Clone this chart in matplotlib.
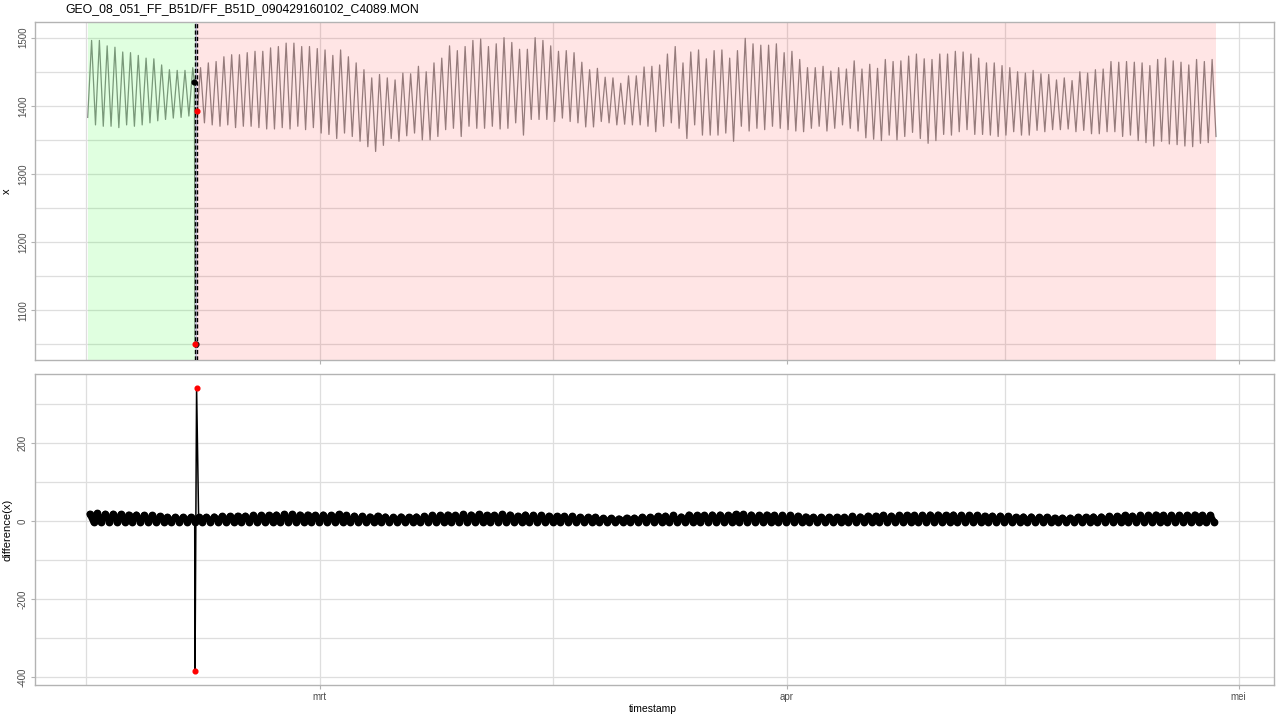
import numpy as np
import pandas as pd
import matplotlib
matplotlib.use("Agg")
import matplotlib.pyplot as plt
import matplotlib.dates as mdates

plt.rcParams['font.family'] = ['Liberation Sans', 'DejaVu Sans']
plt.rcParams['axes.unicode_minus'] = False

# ---------------- data ----------------
title = "GEO_08_051_FF_B51D/FF_B51D_090429160102_C4089.MON"

series_start = "2009-02-13 14:00"
step_minutes = 372          # half tidal cycle (trough -> peak)

# tidal peaks (one per cycle)
peaks = [1496, 1496, 1488, 1486, 1479, 1478, 1474, 1470, 1469, 1460, 1453, 1452, 1452, 1456,
         1456, 1463, 1465, 1472, 1475, 1475, 1478, 1480, 1480, 1485, 1487, 1492, 1492, 1487, 1487,
         1484, 1482, 1474, 1482, 1472, 1463, 1453, 1441, 1446, 1441, 1438, 1448, 1447, 1458,
         1450, 1463, 1470, 1488, 1481, 1487, 1496, 1498, 1487, 1491, 1500, 1493, 1483, 1483, 1500,
         1496, 1488, 1480, 1481, 1478, 1464, 1453, 1455, 1442, 1441, 1433, 1444, 1444, 1457, 1458,
         1460, 1476, 1487, 1463, 1479, 1482, 1469, 1481, 1482, 1470, 1481, 1499, 1491, 1489, 1489,
         1491, 1478, 1480, 1468, 1456, 1456, 1458, 1451, 1456, 1454, 1466, 1454, 1461, 1455, 1468,
         1465, 1466, 1473, 1476, 1469, 1468, 1476, 1476, 1480, 1479, 1476, 1470, 1463, 1463, 1459,
         1456, 1450,
         1448, 1452, 1447, 1446, 1438, 1441, 1437, 1450, 1448, 1453, 1454, 1465, 1464, 1465, 1464,
         1463, 1459, 1468, 1470, 1466, 1464, 1460, 1468, 1465, 1468]

# tidal troughs (the one preceding each peak)
troughs = [1383, 1372, 1370, 1370, 1368, 1372, 1370, 1372, 1375, 1378, 1380, 1382, 1383, 1385,
           1378, 1375, 1372, 1370, 1372, 1368, 1370, 1370, 1368, 1366, 1366, 1368, 1366, 1370, 1365,
           1368, 1360, 1358, 1352, 1360, 1355, 1348, 1340, 1333, 1342, 1352, 1348, 1356, 1360,
           1350, 1350, 1355, 1365, 1367, 1355, 1370, 1367, 1367, 1370, 1366, 1367, 1375, 1357, 1380,
           1380, 1380, 1377, 1382, 1377, 1375, 1369, 1369, 1377, 1375, 1372, 1373, 1372, 1372, 1370,
           1362, 1370, 1375, 1367, 1352, 1372, 1357, 1357, 1357, 1360, 1348, 1370, 1363, 1367, 1365,
           1370, 1367, 1365, 1363, 1362, 1367, 1370, 1363, 1367, 1372, 1367, 1363, 1353, 1351, 1349,
           1357, 1350, 1355, 1361, 1352, 1345, 1349, 1358, 1357, 1362, 1365, 1358, 1358, 1357, 1355,
           1357, 1362,
           1357, 1357, 1364, 1362, 1365, 1365, 1366, 1362, 1364, 1359, 1359, 1362, 1362, 1355, 1357,
           1349, 1346, 1341, 1348, 1344, 1343, 1341, 1340, 1345, 1346]
end_value = 1355

# outlier around the change point
spike_times = ["2009-02-20 16:00", "2009-02-20 17:00", "2009-02-20 19:30"]
spike_values = [1435, 1050, 1392]
black_pts_times = ["2009-02-20 16:00", "2009-02-20 18:00"]
black_pts_values = [1435, 1050]
red_pts_times = ["2009-02-20 17:00", "2009-02-20 19:30"]
red_pts_values = [1050, 1392]

change_start = "2009-02-20 17:00"
change_end = "2009-02-20 19:30"

# difference(x): rising-limb maximum and falling-limb minimum per cycle
diff_hi = [18, 20, 18, 18, 17, 16, 16, 15, 14, 12, 10, 10, 10, 10,
           9, 10, 11, 12, 12, 13, 13, 14, 14, 15, 16, 17, 17, 16, 16, 15, 16, 15, 17, 14,
           13, 12, 11, 13, 11, 9, 11, 10, 11,
           12, 14, 14, 16, 14, 17, 16, 17, 15, 15, 17, 16, 13, 16, 15, 14, 13, 12, 12, 12,
           10, 9, 10, 7, 7, 6, 8, 8, 10, 10,
           12, 13, 14, 11, 16, 14, 14, 16, 16, 14, 17, 17, 16, 15, 16, 15, 14, 14, 13, 11,
           10, 10, 10, 10, 9, 12, 11, 13, 13, 15, 13, 14, 15, 14, 15, 16, 16, 15, 16, 15,
           14, 14, 13, 13, 13, 12, 10,
           11, 11, 9, 10, 8, 8, 8, 10, 10, 11, 11, 12, 12, 14, 13, 14, 14, 16, 15, 15,
           15, 15, 16, 15, 15]
diff_lo = [-3, -3, -3, -3, -3, -3, -3, -3, -3, -2, -2, -2, -2, -2,
           -2, -2, -2, -3, -3, -3, -3, -3, -3, -3, -3, -3, -3, -3, -3, -3, -3, -3, -3, -3,
           -3, -3, -3, -3, -3, -2, -3, -2, -3,
           -3, -3, -3, -3, -3, -3, -3, -3, -3, -3, -3, -3, -3, -3, -3, -3, -3, -3, -3, -3,
           -2, -2, -2, -2, -2, -2, -2, -2, -2, -2,
           -3, -3, -3, -3, -3, -3, -3, -3, -3, -3, -3, -3, -3, -3, -3, -3, -3, -3, -3, -2,
           -2, -2, -2, -2, -2, -3, -2, -3, -3, -3, -3, -3, -3, -3, -3, -3, -3, -3, -3, -3,
           -3, -3, -3, -3, -3, -3, -2,
           -2, -2, -2, -2, -2, -2, -2, -2, -2, -2, -2, -3, -3, -3, -3, -3, -3, -3, -3, -3,
           -3, -3, -3, -3, -3]
spike_diff_times = ["2009-02-20 17:00", "2009-02-20 19:30"]
spike_diffs = [-385, 342]

month_ticks = ["2009-03-01", "2009-04-01", "2009-05-01"]
month_labels = ["mrt", "apr", "mei"]
minor_month_ticks = ["2009-02-13 12:00", "2009-03-16 12:00", "2009-04-15 12:00"]
x_limits = ["2009-02-10 02:00", "2009-05-03 08:24"]

top_major = [1100, 1200, 1300, 1400, 1500]
top_minor = [1050, 1150, 1250, 1350, 1450]
bot_major = [-400, -200, 0, 200]
bot_minor = [-300, -100, 100, 300]

# ---------------- build series ----------------
start = pd.Timestamp(series_start)
step = pd.Timedelta(minutes=step_minutes)

vals = []
for tr, pk in zip(troughs, peaks):
    vals += [tr, pk]
vals.append(end_value)
times = [start + i * step for i in range(len(vals))]
ser = pd.Series(vals, index=pd.DatetimeIndex(times))
ser = pd.concat([ser, pd.Series(spike_values, index=pd.to_datetime(spike_times))]).sort_index()

dvals = []
for hi, lo in zip(diff_hi, diff_lo):
    dvals += [hi, lo]
dtimes = [start + (i + 0.5) * step for i in range(len(dvals))]
dser = pd.Series(dvals, index=pd.DatetimeIndex(dtimes))
sp = pd.Series(spike_diffs, index=pd.to_datetime(spike_diff_times))
dser_all = pd.concat([dser, sp]).sort_index()
t_sp0, t_sp1 = sp.index.min(), sp.index.max()
before = dser_all[dser_all.index < t_sp0]
after = dser_all[dser_all.index > t_sp1]
spike_seg = pd.concat([before.iloc[-1:], sp, after.iloc[:1]])

# ---------------- figure ----------------
fig = plt.figure(figsize=(12.8, 7.2), dpi=100)
ax1 = fig.add_axes([35/1280, 1-360/720, 1239/1280, 338/720])
ax2 = fig.add_axes([35/1280, 1-685/720, 1239/1280, 311/720])

grid_col = '#dedede'
border_col = '#b3b3b3'
text_col = '#4d4d4d'

major_dates = pd.to_datetime(month_ticks)
minor_dates = pd.to_datetime(minor_month_ticks)
xl = pd.to_datetime(x_limits)

for ax in (ax1, ax2):
    ax.set_xlim(xl[0], xl[1])
    for d in list(major_dates) + list(minor_dates):
        ax.axvline(d, color=grid_col, lw=0.9, zorder=0)
    for s in ax.spines.values():
        s.set_color(border_col)
        s.set_linewidth(1.0)
    ax.set_xticks(major_dates)
    ax.tick_params(axis='both', colors=border_col, length=3, width=0.8,
                   labelcolor=text_col, labelsize=7, pad=2)

# top panel
ax1.set_ylim(1027, 1523)
for v in top_major + top_minor:
    ax1.axhline(v, color=grid_col, lw=0.9, zorder=0)
ax1.axvspan(ser.index[0], pd.Timestamp(change_start), color='#00ff00', alpha=0.12, lw=0, zorder=2)
ax1.axvspan(pd.Timestamp(change_end), ser.index[-1], color='#ff0000', alpha=0.10, lw=0, zorder=2)
ax1.axvspan(pd.Timestamp(change_start), pd.Timestamp(change_end), color='#c9c3dc', lw=0, zorder=2)
ax1.plot(ser.index, ser.values, color='#8a8a8a', lw=0.9, zorder=1)
for t in (change_start, change_end):
    ax1.axvline(pd.Timestamp(t), color='black', lw=1.0, ls=(0, (3, 1.6)), zorder=4)
ax1.plot(pd.to_datetime(black_pts_times), black_pts_values, 'o', color='black',
         mec='black', ms=3.4, zorder=5)
ax1.plot(pd.to_datetime(red_pts_times), red_pts_values, 'o', color='red',
         mec='red', ms=3.4, zorder=6)
ax1.set_yticks(top_major)
ax1.set_xticklabels([])
ax1.set_ylabel('x', fontsize=8, color='black')
ax1.yaxis.set_label_coords(-0.0185, 0.5)
plt.setp(ax1.get_yticklabels(), rotation=90, va='center')

# bottom panel
ax2.set_ylim(-421, 377)
for v in bot_major + bot_minor:
    ax2.axhline(v, color=grid_col, lw=0.9, zorder=0)
ax2.plot(spike_seg.index, spike_seg.values, color='black', lw=1.1, zorder=3)
for part in (before, after):
    ax2.plot(part.index, part.values, color='black', lw=4.6, marker='o', ms=4.6,
             mec='black', solid_joinstyle='round', solid_capstyle='round', zorder=3)
ax2.plot(sp.index, sp.values, 'o', color='red', mec='red', ms=3.4, zorder=4)
ax2.set_yticks(bot_major)
ax2.set_xticklabels(month_labels)
ax2.set_ylabel('difference(x)', fontsize=8, color='black')
ax2.yaxis.set_label_coords(-0.0185, 0.5)
plt.setp(ax2.get_yticklabels(), rotation=90, va='center')

fig.text(65/1280, 1-9/720, title, fontsize=8.8, ha='left', va='center', color='black')
fig.text(653/1280, 1-709/720, 'timestamp', fontsize=7.5, ha='center', va='center', color='black')

fig.savefig('out.png', dpi=100)
